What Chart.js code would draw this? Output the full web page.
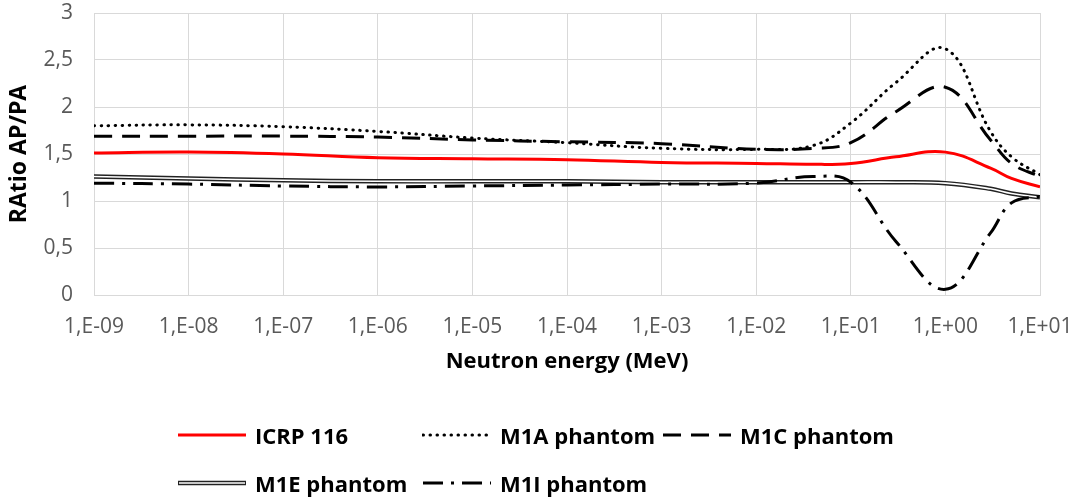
<!DOCTYPE html>
<html lang="en">
<head>
    <meta charset="UTF-8">
    <title>Ratio AP/PA vs neutron energy</title>
    <script src="https://cdn.jsdelivr.net/npm/chart.js"></script>
    <style>
        body { margin: 0; background: #fff; }
        #wrap { position: relative; width: 1085px; height: 499px; }
        #legend {
            position: absolute; left: 177px; top: 411px;
            display: grid; grid-template-columns: 245px 240px auto;
            grid-auto-rows: 48px;
            font: bold 22px "Open Sans", sans-serif; color: #000;
        }
        .item { display: flex; align-items: center; white-space: nowrap; }
        .item canvas { margin-right: 8px; }
    </style>
</head>
<body>
<div id="wrap">
    <canvas id="ratioChart" width="1085" height="499"></canvas>
    <div id="legend"></div>
</div>

<script>
    // energies (MeV) where the curves were read
    const energy = [1e-9, 1e-8, 1e-7, 1e-6, 1e-5, 1e-4, 1e-3, 1e-2, 4e-2, 1e-1, 3e-1, 1, 3, 5, 10];

    const icrp116 = [1.51, 1.52, 1.50, 1.46, 1.45, 1.44, 1.41, 1.40, 1.39, 1.40, 1.47, 1.52, 1.35, 1.24, 1.15];
    const m1a     = [1.80, 1.81, 1.79, 1.74, 1.67, 1.62, 1.56, 1.55, 1.59, 1.83, 2.26, 2.62, 1.74, 1.47, 1.28];
    const m1c     = [1.69, 1.69, 1.69, 1.68, 1.65, 1.63, 1.61, 1.55, 1.56, 1.62, 1.95, 2.21, 1.65, 1.40, 1.26];
    const m1e     = [1.26, 1.24, 1.22, 1.21, 1.21, 1.21, 1.20, 1.20, 1.20, 1.20, 1.20, 1.19, 1.13, 1.08, 1.04];
    const m1i     = [1.19, 1.18, 1.16, 1.15, 1.16, 1.17, 1.18, 1.19, 1.26, 1.20, 0.57, 0.06, 0.66, 0.98, 1.05];

    const xTicks = [1e-9, 1e-8, 1e-7, 1e-6, 1e-5, 1e-4, 1e-3, 1e-2, 1e-1, 1, 10];
    const xTickLabels = ["1,E-09", "1,E-08", "1,E-07", "1,E-06", "1,E-05", "1,E-04",
                         "1,E-03", "1,E-02", "1,E-01", "1,E+00", "1,E+01"];

    const pts = vals => vals.map((v, i) => ({ x: energy[i], y: v }));

    // line styles, shared by the chart and the legend swatches
    const styles = {
        icrp: { color: "#ff0000", width: 3, dash: [] },
        m1a:  { color: "#000", width: 3, dash: [0.5, 6.5], cap: "round" },
        m1c:  { color: "#000", width: 3, dash: [18, 10] },
        m1e:  { color: "#222", width: 4.5, dash: [], inner: "#fff", innerWidth: 1.6 },
        m1i:  { color: "#000", width: 3, dash: [20, 8, 3, 8] }
    };

    const line = (label, data, st, order) => ({
        label, data: pts(data), order,
        borderColor: st.color, borderWidth: st.width, borderDash: st.dash,
        borderCapStyle: st.cap || "butt",
        pointRadius: 0, fill: false, tension: 0.4
    });

    const ctx = document.getElementById("ratioChart").getContext("2d");
    new Chart(ctx, {
        type: "line",
        data: {
            datasets: [
                line("ICRP 116", icrp116, styles.icrp, 0),
                line("M1I phantom", m1i, styles.m1i, 1),
                line("M1A phantom", m1a, styles.m1a, 2),
                line("M1C phantom", m1c, styles.m1c, 3),
                // double line: white core over dark outline
                line("M1E core", m1e, { color: styles.m1e.inner, width: styles.m1e.innerWidth, dash: [] }, 4),
                line("M1E phantom", m1e, styles.m1e, 5)
            ]
        },
        options: {
            responsive: false,
            animation: false,
            layout: { padding: { left: 6, right: 0, top: 2, bottom: 124 } },
            plugins: { legend: { display: false }, tooltip: { enabled: false } },
            scales: {
                x: {
                    type: "logarithmic",
                    min: 1e-9, max: 10,
                    afterBuildTicks: axis => { axis.ticks = xTicks.map(v => ({ value: v })); },
                    afterFit: axis => { axis.height = 80; axis.paddingLeft = 30; axis.paddingRight = 45; },
                    grid: { color: "#d9d9d9", drawTicks: false },
                    border: { color: "#d9d9d9" },
                    ticks: {
                        autoSkip: false, maxRotation: 0, padding: 19,
                        color: "#595959", font: { family: "Open Sans", size: 21 },
                        callback: (v, i) => xTickLabels[i]
                    },
                    title: {
                        display: true, text: "Neutron energy (MeV)", color: "#000",
                        font: { family: "Open Sans", size: 22, weight: "bold" },
                        padding: { top: 0, bottom: 0 }
                    }
                },
                y: {
                    min: 0, max: 3,
                    afterFit: axis => { axis.width = 88; axis.paddingTop = 13; axis.paddingBottom = 13; },
                    grid: { color: "#d9d9d9", drawTicks: false },
                    border: { display: false },
                    ticks: {
                        stepSize: 0.5, padding: 21,
                        color: "#595959", font: { family: "Open Sans", size: 21 },
                        callback: v => String(v).replace(".", ",")
                    },
                    title: {
                        display: true, text: "RAtio AP/PA", color: "#000",
                        font: { family: "Open Sans", size: 23, weight: "bold" },
                        padding: { top: 0, bottom: 0 }
                    }
                }
            }
        }
    });

    // legend with drawn line swatches
    const legendItems = [
        ["ICRP 116", styles.icrp], ["M1A phantom", styles.m1a], ["M1C phantom", styles.m1c],
        ["M1E phantom", styles.m1e], ["M1I phantom", styles.m1i]
    ];
    const legend = document.getElementById("legend");
    legendItems.forEach(([text, st]) => {
        const item = document.createElement("div");
        item.className = "item";
        const sw = document.createElement("canvas");
        sw.width = 70; sw.height = 14;
        const g = sw.getContext("2d");
        g.strokeStyle = st.color; g.lineWidth = st.width;
        g.setLineDash(st.dash); g.lineCap = st.cap || "butt";
        g.beginPath(); g.moveTo(1, 7); g.lineTo(69, 7); g.stroke();
        if (st.inner) {
            g.strokeStyle = st.inner; g.lineWidth = st.innerWidth;
            g.beginPath(); g.moveTo(2, 7); g.lineTo(68, 7); g.stroke();
        }
        item.appendChild(sw);
        const span = document.createElement("span");
        span.textContent = text;
        item.appendChild(span);
        legend.appendChild(item);
    });
</script>
</body>
</html>
